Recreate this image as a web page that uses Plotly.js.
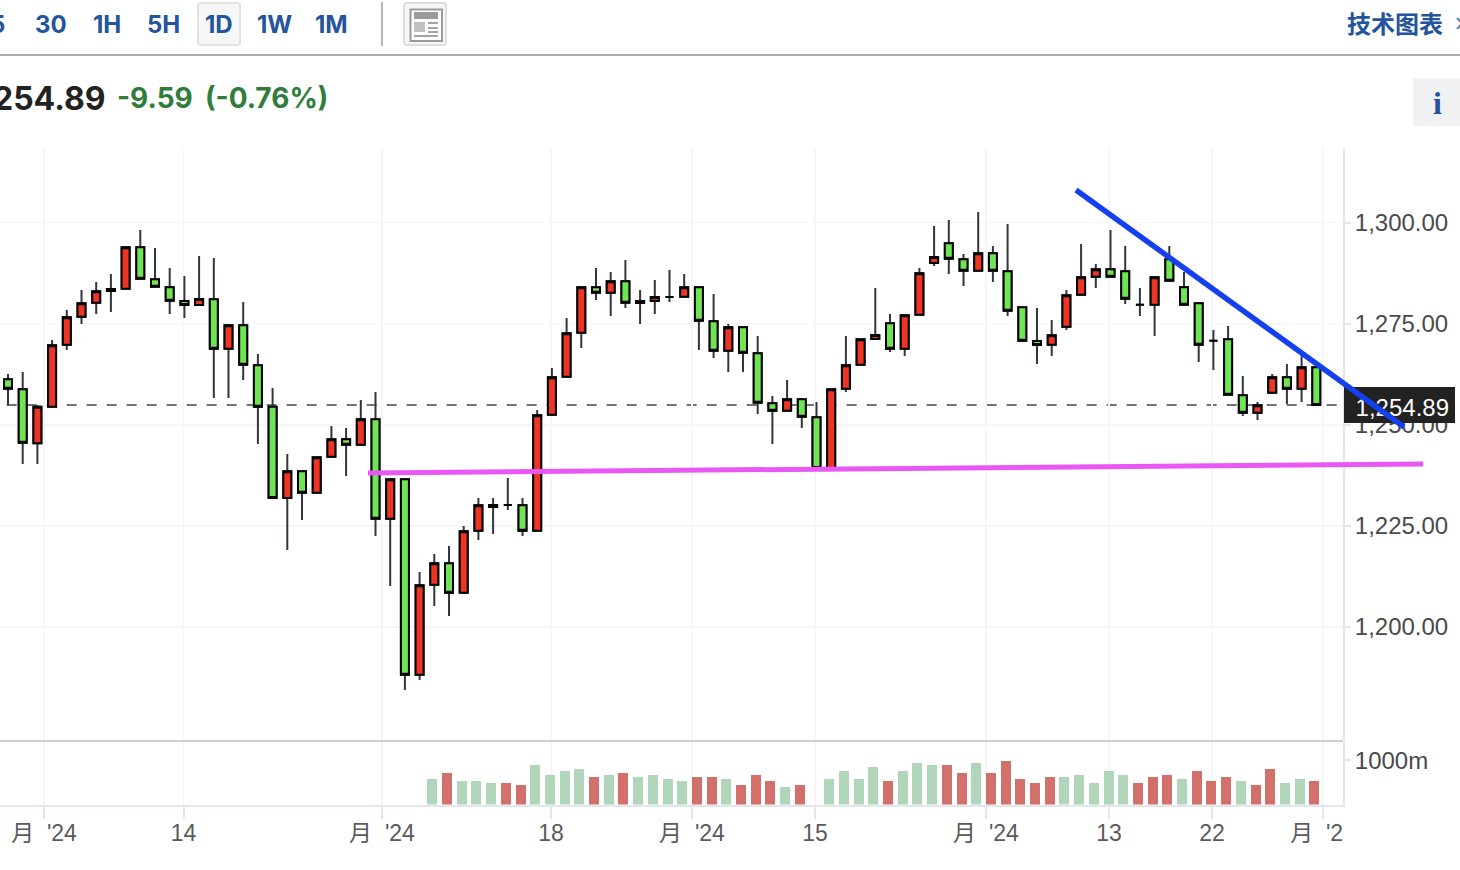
<!DOCTYPE html>
<html>
<head>
<meta charset="utf-8">
<script src="https://cdn.plot.ly/plotly-3.0.1.min.js"></script>
<style>html,body{margin:0;padding:0;background:#fff;overflow:hidden}#chart{width:1460px;height:870px}</style>
</head>
<body>
<div id="chart"></div>
<script>
const opens = [1261.24,1258.77,1245.42,1254.47,1269.79,1276.72,1280.18,1283.07,1283.64,1293.87,1285.96,1283.98,1280.60,1279.61,1281.02,1268.80,1274.59,1264.70,1254.47,1231.89,1238.50,1233.21,1242.11,1246.41,1245.07,1251.35,1226.78,1236.52,1188.21,1210.46,1215.75,1208.48,1223.81,1229.67,1230.16,1230.09,1223.81,1252.49,1261.88,1272.76,1283.98,1282.65,1285.47,1280.10,1280.60,1281.59,1281.66,1283.98,1275.58,1268.31,1274.09,1267.67,1255.31,1253.48,1256.29,1251.84,1239.31,1258.92,1264.85,1271.20,1275.08,1268.80,1277.21,1289.99,1294.86,1290.91,1288.09,1292.39,1287.94,1279.04,1270.71,1269.79,1274.24,1282.15,1286.60,1288.43,1287.94,1279.68,1279.68,1290.91,1283.98,1280.03,1270.78,1271.13,1257.28,1252.98,1257.93,1261.73,1258.92,1264.21];
const highs = [1262.55,1263.04,1254.89,1270.96,1278.37,1283.32,1285.29,1287.27,1293.87,1298.15,1293.70,1288.76,1286.78,1291.72,1291.23,1274.59,1280.35,1267.49,1259.09,1242.77,1238.50,1241.96,1249.69,1249.20,1256.12,1258.10,1236.52,1236.52,1213.60,1218.05,1220.03,1224.97,1231.89,1231.89,1236.84,1231.89,1253.65,1264.03,1276.39,1283.98,1288.76,1287.77,1290.73,1283.32,1285.79,1288.26,1287.27,1283.98,1282.33,1274.91,1274.09,1271.94,1257.11,1261.07,1256.29,1255.63,1258.77,1271.94,1271.13,1283.81,1277.38,1277.06,1288.76,1299.14,1300.62,1292.22,1302.60,1294.19,1299.63,1279.04,1278.87,1275.90,1283.32,1294.69,1289.74,1298.15,1294.19,1283.81,1286.46,1294.19,1287.77,1280.03,1273.43,1274.42,1262.06,1255.63,1262.55,1265.02,1267.49,1264.21];
const lows = [1254.89,1240.30,1240.30,1254.47,1268.48,1274.91,1277.38,1277.88,1283.64,1286.11,1284.13,1277.38,1276.39,1279.61,1256.62,1256.62,1261.07,1245.24,1231.89,1219.04,1226.46,1233.21,1242.11,1237.33,1245.07,1222.50,1210.14,1184.43,1186.90,1205.19,1202.72,1208.48,1221.51,1222.99,1228.93,1222.50,1223.81,1252.49,1261.88,1268.98,1280.84,1276.89,1278.87,1274.91,1277.38,1280.35,1281.66,1268.48,1266.51,1263.04,1263.04,1252.66,1245.24,1253.48,1249.20,1239.31,1239.31,1258.10,1264.85,1271.20,1267.99,1267.00,1277.21,1289.25,1287.27,1284.30,1288.09,1285.29,1276.89,1270.78,1265.02,1267.00,1273.43,1282.15,1283.81,1286.60,1279.86,1276.89,1271.94,1285.61,1279.68,1265.52,1263.54,1257.43,1252.17,1251.18,1257.93,1255.13,1255.63,1254.89];
const closes = [1258.92,1245.57,1254.47,1269.65,1276.57,1280.03,1283.00,1283.56,1293.87,1286.11,1284.13,1280.67,1279.61,1281.09,1268.80,1274.59,1264.85,1254.47,1231.89,1238.50,1233.21,1241.96,1246.41,1245.07,1251.35,1226.78,1236.52,1188.21,1210.31,1215.75,1208.48,1223.66,1230.09,1230.16,1230.16,1223.81,1252.34,1261.73,1272.61,1283.98,1282.65,1285.47,1280.18,1280.60,1281.59,1281.59,1283.98,1275.73,1268.31,1274.09,1267.82,1255.45,1253.48,1256.29,1251.99,1239.31,1258.77,1264.70,1271.13,1272.19,1268.80,1277.06,1287.44,1291.47,1291.05,1288.09,1292.39,1288.09,1278.20,1270.78,1269.72,1272.12,1282.01,1286.46,1288.43,1286.60,1281.17,1279.68,1286.46,1285.61,1279.68,1269.79,1270.78,1257.43,1252.98,1254.81,1261.73,1258.92,1264.21,1254.89];

const firstVolumeIndex = 29;
const volumes = [568,705,523,523,478,478,432,887,660,750,796,614,660,705,614,660,568,523,614,614,568,432,660,523,387,432,null,568,750,568,841,523,750,932,887,887,705,932,705,978,568,478,614,614,660,478,750,660,478,614,660,568,750,523,614,523,432,796,478,568,523];
const volumeTone = "grggg rrggg grgrg gggrr grrrg r-ggg grggg rrgrr rrrgg ggg rrr grrr grrgg rgr".replace(/\s/g,'');
const lastPrice = 1254.89;

const priceTicks = [1200,1225,1250,1275,1300];
const priceTickText = ['1,200.00','1,225.00','1,250.00','1,275.00','1,300.00'];
const timeTicks = [2.45,11.94,25.44,36.94,46.53,54.9,66.53,74.9,81.9,89.46];
const timeTickText = ["月\u00a0\u00a0'24","14","月\u00a0\u00a0'24","18","月\u00a0\u00a0'24","15","月\u00a0\u00a0'24","13","22","月\u00a0\u00a0'2\u00a0\u00a0"];
const intervals = ['30','1H','5H','1D','1W','1M'];
const intervalX = [51,107,163,219,274,331];

const W = 1460, H = 870;
const fx = x => x / W, fy = y => 1 - y / H;
const AXIS_FONT = '"Liberation Sans","Noto Sans CJK SC",sans-serif';
const BOLD_FONT = 'Inter,"Noto Sans CJK SC",sans-serif';
const BLUE = '#24549b', GRID = '#f5f6f7', AXIS = '#e3e6ec';

const idx = opens.map((_, i) => i);
const bodyHigh = opens.map((o, i) => Math.max(o, closes[i]));
const bodyLow = opens.map((o, i) => Math.min(o, closes[i]));
const volX = volumes.map((_, i) => i + firstVolumeIndex);

const wicks = {type:'candlestick', x:idx, open:opens, high:highs, low:lows, close:closes,
  increasing:{line:{color:'#31373c',width:2},fillcolor:'#ee3524'},
  decreasing:{line:{color:'#31373c',width:2},fillcolor:'#6fe553'},
  whiskerwidth:0, hoverinfo:'skip', showlegend:false, xaxis:'x', yaxis:'y'};
const bodies = {type:'candlestick', x:idx, open:opens, high:bodyHigh, low:bodyLow, close:closes,
  increasing:{line:{color:'#000',width:2},fillcolor:'#ee3524'},
  decreasing:{line:{color:'#000',width:2},fillcolor:'#6fe553'},
  whiskerwidth:0, hoverinfo:'skip', showlegend:false, xaxis:'x', yaxis:'y'};
const volumeBars = {type:'bar', x:volX, y:volumes, width:0.68, offset:-0.476,
  marker:{color:volumes.map((_, i) => volumeTone[i]==='r' ? '#d2706c' : '#b0d5ba'), line:{width:0}},
  hoverinfo:'skip', showlegend:false, xaxis:'x', yaxis:'y2'};

const pline = (x0,y0,x1,y1,color,width,extra) => Object.assign({type:'line',xref:'paper',yref:'paper',
  x0:fx(x0),y0:fy(y0),x1:fx(x1),y1:fy(y1),line:{color,width},layer:'above'},extra||{});
const prect = (x0,y0,x1,y1,fill,lineColor,lineW) => ({type:'rect',xref:'paper',yref:'paper',
  x0:fx(x0),y0:fy(y0),x1:fx(x1),y1:fy(y1),fillcolor:fill,line:{color:lineColor||fill,width:lineW||0},layer:'above'});
const roundBox = (x0,y0,x1,y1,r,fill,stroke) => ({type:'path',xref:'paper',yref:'paper',layer:'above',
  path:`M${fx(x0+r)},${fy(y0)} L${fx(x1-r)},${fy(y0)} Q${fx(x1)},${fy(y0)} ${fx(x1)},${fy(y0+r)} L${fx(x1)},${fy(y1-r)} Q${fx(x1)},${fy(y1)} ${fx(x1-r)},${fy(y1)} L${fx(x0+r)},${fy(y1)} Q${fx(x0)},${fy(y1)} ${fx(x0)},${fy(y1-r)} L${fx(x0)},${fy(y0+r)} Q${fx(x0)},${fy(y0)} ${fx(x0+r)},${fy(y0)} Z`,
  fillcolor:fill,line:{color:stroke,width:2}});

const shapes = [
  {type:'line',xref:'paper',yref:'y',x0:fx(6.67),x1:fx(1344),y0:lastPrice,y1:lastPrice,layer:'below',
   line:{color:'#444',width:1.6,dash:'10px,10px'}},
  pline(0,741,1343,741,'#cfcfcf',2),
  pline(0,55,1460,55,'#ababab',2),
  roundBox(198,3,240,45,3,'#f7f7f7','#e2e2e2'),
  pline(382,2,382,46,'#b5b5b5',2),
  roundBox(404,3,446,45,3,'#f6f6f6','#dedede'),
  prect(410.5,9.5,442,41,'#fff','#9a9a9a',2),
  prect(414,12,438,19,'#9a9a9a'),
  prect(414,22,425,32,'#c0c0c0'),
  pline(428,23,438,23,'#a5a5a5',2),
  pline(428,28,438,28,'#a5a5a5',2),
  pline(428,32,438,32,'#a5a5a5',2),
  pline(414,36,438,36,'#a5a5a5',2),
  prect(1413,78,1460,126,'#f0f1f3'),
  Object.assign(prect(1344,387,1455,423,'#222'),
    {label:{text:'1,254.89',font:{family:AXIS_FONT,size:24,color:'#fff'},textposition:'middle right',padding:3}}),
  pline(368,473,1423,464,'#e957f5',5),
  pline(1076,190,1404,427,'#1540f0',5.5)
];

const note = (x,y,text,size,color,anchor,font,weight) => ({xref:'paper',yref:'paper',x:fx(x),y:fy(y),text,showarrow:false,
  xanchor:anchor||'center',yanchor:'middle',font:{family:font||BOLD_FONT,size,color,weight:weight||700}});
const annotations = [
  note(7,24,'5',24,BLUE,'right'),
  ...intervals.map((t,i) => note(intervalX[i],24,t,24,BLUE)),
  note(1395,24,'技术图表',24,BLUE),
  note(1453,23,'›',24,'#5f7ba6','left',BOLD_FONT,400),
  note(108,98,'254.89',32,'#222','right'),
  note(115,98,'-9.59',28,'#2f7d3a','left'),
  note(203,98,'(-0.76%)',28,'#2f7d3a','left'),
  note(1437,103,'i',32,BLUE,'center','"Liberation Serif",serif')
];

const layout = {
  width:W, height:H, autosize:false, margin:{l:0,r:0,t:0,b:0,pad:0},
  paper_bgcolor:'#fff', plot_bgcolor:'#fff', showlegend:false, boxmode:'overlay', boxgap:0.456, boxgroupgap:0,
  bargap:0, shapes, annotations,
  xaxis:{domain:[0,fx(1343)],range:[-0.544,90.816],anchor:'y2',type:'linear',
    rangeslider:{visible:false},tickmode:'array',tickvals:timeTicks,ticktext:timeTickText,
    ticks:'outside',ticklen:12,tickwidth:2,tickcolor:AXIS,showline:true,linecolor:AXIS,linewidth:2,
    showgrid:true,gridcolor:GRID,gridwidth:1.5,zeroline:false,ticklabelstandoff:-5,
    tickfont:{family:AXIS_FONT,size:23,color:'#5a5a5a'}},
  yaxis:{domain:[fy(740),fy(148)],range:[1172.07,1318.42],side:'right',anchor:'x',
    tickmode:'array',tickvals:priceTicks,ticktext:priceTickText,
    ticks:'outside',ticklen:6,tickwidth:2,tickcolor:AXIS,showline:true,linecolor:AXIS,linewidth:2,
    showgrid:true,gridcolor:GRID,gridwidth:1.5,zeroline:false,ticklabelstandoff:-1,
    tickfont:{family:AXIS_FONT,size:24,color:'#4a4a4a'}},
  yaxis2:{domain:[fy(804.5),fy(741)],range:[0,1441],side:'right',anchor:'x',
    tickmode:'array',tickvals:[1000],ticktext:['1000m'],
    ticks:'outside',ticklen:6,tickwidth:2,tickcolor:AXIS,showline:true,linecolor:AXIS,linewidth:2,
    showgrid:false,zeroline:false,ticklabelstandoff:-1,
    tickfont:{family:AXIS_FONT,size:24,color:'#4a4a4a'}}
};

Plotly.newPlot('chart',[wicks,bodies,volumeBars],layout,{staticPlot:true,displayModeBar:false});
</script>
</body>
</html>
